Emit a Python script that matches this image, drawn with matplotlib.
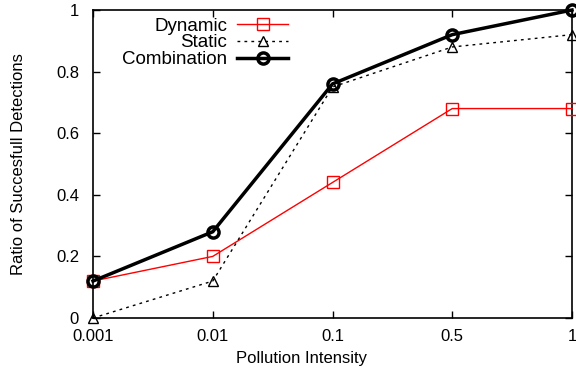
import matplotlib
matplotlib.use("Agg")
import matplotlib.pyplot as plt

plt.rcParams['font.family'] = ['Liberation Sans', 'DejaVu Sans']

categories = ["0.001", "0.01", "0.1", "0.5", "1"]
dynamic = [0.12, 0.20, 0.44, 0.68, 0.68]
static = [0.0, 0.12, 0.75, 0.88, 0.92]
combination = [0.12, 0.28, 0.76, 0.92, 1.0]
yticks = [0, 0.2, 0.4, 0.6, 0.8, 1]
ytick_labels = ["0", "0.2", "0.4", "0.6", "0.8", "1"]

fig = plt.figure(figsize=(5.76, 3.75), dpi=100)
ax = fig.add_axes([93/576, 1-318/375, (572-93)/576, (318-10)/375])

x = list(range(len(categories)))
ax.plot(x, dynamic, color='#ff0000', lw=1, marker='s', ms=8, mfc='none', mec='#ff0000', mew=1, label='Dynamic', clip_on=False, zorder=3)
ax.plot(x, static, color='black', lw=1, ls=(0, (2, 3)), marker='^', ms=7, mfc='none', mec='black', mew=1, label='Static', clip_on=False, zorder=3)
ax.plot(x, combination, color='black', lw=2.5, marker='o', ms=8, mfc='none', mec='black', mew=2.5, label='Combination', clip_on=False, zorder=4)

ax.set_xlim(0, len(categories)-1)
ax.set_ylim(0, 1)
ax.set_xticks(x)
ax.set_xticklabels(categories)
ax.set_yticks(yticks)
ax.set_yticklabels(ytick_labels)
ax.tick_params(direction='in', top=True, right=True, length=5, labelsize=12, width=1)
ax.tick_params(axis='x', pad=8)
ax.tick_params(axis='y', pad=10)
for s in ax.spines.values():
    s.set_linewidth(1.2)
ax.set_xlabel("Pollution Intensity", fontsize=12)
ax.xaxis.set_label_coords((302-93)/(572-93), -(351-318)/(318-10))
ax.set_ylabel("Ratio of Succesfull Detections", fontsize=12)
ax.yaxis.set_label_coords(-(93-26)/(572-93), 0.5)

leg = ax.legend(loc='upper left', bbox_to_anchor=(0.045, 1.0), frameon=False, markerfirst=False,
                fontsize=13.5, handlelength=2.7, labelspacing=-0.02, handletextpad=0.55, borderaxespad=0.0)
for t in leg.get_texts():
    t.set_ha('right')
leg._legend_box.align = 'right'

fig.savefig("out.png", dpi=100)
